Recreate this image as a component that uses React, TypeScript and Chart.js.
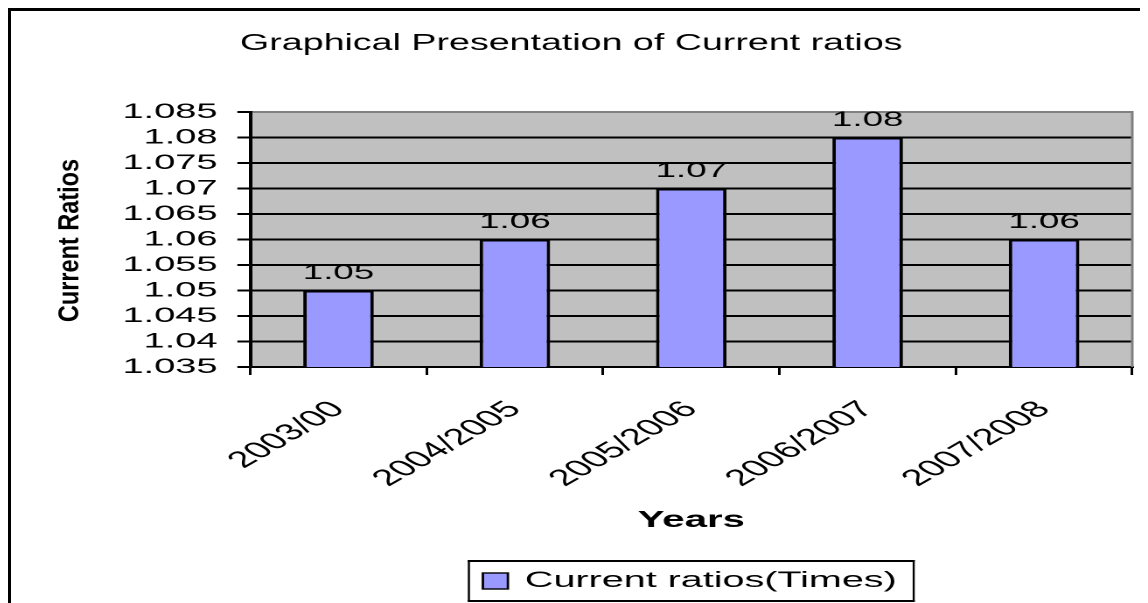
import { useEffect, useRef } from 'react';
import { Chart, registerables } from 'chart.js';

Chart.register(...registerables);

// ---- chart content ----
const CHART_TITLE = 'Graphical Presentation of Current ratios';
const SERIES_LABEL = 'Current ratios(Times)';
const X_AXIS_TITLE = 'Years';
const Y_AXIS_TITLE = 'Current Ratios';

const YEARS = ['2003/00', '2004/2005', '2005/2006', '2006/2007', '2007/2008'];
const CURRENT_RATIOS = [1.05, 1.06, 1.07, 1.08, 1.06];
const Y_TICK_LABELS = [
  '1.035', '1.04', '1.045', '1.05', '1.055', '1.06',
  '1.065', '1.07', '1.075', '1.08', '1.085',
];

const Y_MIN = parseFloat(Y_TICK_LABELS[0]);
const Y_MAX = parseFloat(Y_TICK_LABELS[Y_TICK_LABELS.length - 1]);

// ---- drawing surface: the sheet-style chart is drawn narrow and widened horizontally ----
const CW = 650;
const CH = 592;
const SX = 1137 / CW;
const FONT = '"Liberation Sans", Arial, Helvetica, sans-serif';

const BAR_FILL = '#9999FF';
const PLOT_FILL = '#C0C0C0';
const FRAME_GRAY = '#808080';

const sheetDecor = {
  id: 'sheetDecor',
  beforeDraw(chart: any) {
    const { ctx, chartArea } = chart;
    const { left, top, right, bottom } = chartArea;
    ctx.save();
    ctx.fillStyle = PLOT_FILL;
    ctx.fillRect(left, top, right - left, bottom - top);
    ctx.restore();
  },
  afterDatasetsDraw(chart: any) {
    const { ctx } = chart;
    const meta = chart.getDatasetMeta(0);
    const values = chart.data.datasets[0].data as number[];
    ctx.save();
    ctx.fillStyle = '#000';
    ctx.font = `21px ${FONT}`;
    ctx.textAlign = 'center';
    ctx.textBaseline = 'alphabetic';
    meta.data.forEach((bar: any, i: number) => {
      ctx.fillText(values[i].toFixed(2), bar.x, bar.y - 11.5);
    });
    ctx.restore();
  },
  afterDraw(chart: any) {
    const { ctx, chartArea } = chart;
    const { left, top, right, bottom } = chartArea;
    const midX = (left + right) / 2;

    // gray right edge of the plot frame
    ctx.save();
    ctx.strokeStyle = FRAME_GRAY;
    ctx.lineWidth = 1.5;
    ctx.beginPath();
    ctx.moveTo(right, top - 1);
    ctx.lineTo(right, bottom);
    ctx.stroke();
    ctx.restore();

    // chart title
    const titleScale = 1.6 / SX;
    ctx.save();
    ctx.scale(titleScale, 1);
    ctx.fillStyle = '#000';
    ctx.font = `23.5px ${FONT}`;
    ctx.textAlign = 'left';
    ctx.textBaseline = 'alphabetic';
    ctx.fillText(CHART_TITLE, 229 / SX / titleScale, 39);
    ctx.restore();

    // vertical axis title
    ctx.save();
    ctx.translate(33.7, (top + bottom) / 2 + 1);
    ctx.scale(1.23 / SX, 1);
    ctx.rotate(-Math.PI / 2);
    ctx.fillStyle = '#000';
    ctx.font = `bold 23.5px ${FONT}`;
    ctx.textAlign = 'center';
    ctx.textBaseline = 'middle';
    ctx.fillText(Y_AXIS_TITLE, 0, 0);
    ctx.restore();

    // horizontal axis title
    ctx.save();
    ctx.fillStyle = '#000';
    ctx.font = `bold 23px ${FONT}`;
    ctx.textAlign = 'center';
    ctx.textBaseline = 'alphabetic';
    ctx.fillText(X_AXIS_TITLE, midX, 516);
    ctx.restore();

    // boxed legend
    ctx.save();
    ctx.font = `22.6px ${FONT}`;
    const tw = ctx.measureText(SERIES_LABEL).width;
    const padL = 8.6;
    const sw = 14.3;
    const gap = 9.7;
    const padR = 10.3;
    const boxW = padL + sw + gap + tw + padR;
    const boxH = 42;
    const boxX = midX - boxW / 2;
    const boxY = 549;
    ctx.fillStyle = '#fff';
    ctx.fillRect(boxX, boxY, boxW, boxH);
    ctx.fillStyle = '#000';
    ctx.fillRect(boxX, boxY, boxW, 2);
    ctx.fillRect(boxX, boxY + boxH - 2, boxW, 2);
    ctx.fillRect(boxX, boxY, 1.2, boxH);
    ctx.fillRect(boxX + boxW - 1.2, boxY, 1.2, boxH);
    const swX = boxX + padL;
    const swY = boxY + 13;
    ctx.fillStyle = BAR_FILL;
    ctx.fillRect(swX, swY, sw, 16);
    ctx.strokeStyle = '#000';
    ctx.lineWidth = 1.4;
    ctx.strokeRect(swX, swY, sw, 16);
    ctx.fillStyle = '#000';
    ctx.textAlign = 'left';
    ctx.textBaseline = 'alphabetic';
    ctx.fillText(SERIES_LABEL, swX + sw + gap, 576);
    ctx.restore();
  },
};

export default function App() {
  const canvasRef = useRef<HTMLCanvasElement>(null);

  useEffect(() => {
    const canvas = canvasRef.current;
    if (!canvas) return;

    const chart = new Chart(canvas, {
      type: 'bar',
      data: {
        labels: YEARS,
        datasets: [
          {
            label: SERIES_LABEL,
            data: CURRENT_RATIOS,
            backgroundColor: BAR_FILL,
            borderColor: '#000',
            borderWidth: 2,
            barPercentage: 0.4,
            categoryPercentage: 1.0,
          },
        ],
      },
      options: {
        responsive: false,
        devicePixelRatio: 2,
        animation: false,
        events: [],
        layout: { padding: { left: 0, right: 9, top: 101, bottom: 86 } },
        plugins: {
          legend: { display: false },
          title: { display: false },
          tooltip: { enabled: false },
        },
        scales: {
          x: {
            grid: {
              offset: true,
              drawOnChartArea: false,
              drawTicks: true,
              tickLength: 8,
              color: '#000',
              lineWidth: 1.5,
            },
            border: { display: true, color: '#000', width: 2 },
            ticks: {
              color: '#000',
              font: { family: FONT, size: 23 },
              minRotation: 45,
              maxRotation: 45,
              autoSkip: false,
              padding: 21,
            },
            afterFit: (scale: any) => {
              scale.height = 150;
            },
          },
          y: {
            min: Y_MIN,
            max: Y_MAX,
            afterBuildTicks: (scale: any) => {
              scale.ticks = Y_TICK_LABELS.map((t) => ({ value: parseFloat(t) }));
            },
            afterFit: (scale: any) => {
              scale.width = 136.8;
            },
            grid: {
              color: (c: any) =>
                c.tick && Math.abs(c.tick.value - Y_MAX) < 1e-9 ? FRAME_GRAY : '#000',
              tickColor: '#000',
              lineWidth: 2,
              drawTicks: true,
              tickLength: 7.4,
            },
            border: { display: true, color: '#000', width: 2 },
            ticks: {
              color: '#000',
              font: { family: FONT, size: 21.7 },
              padding: 11.4,
              autoSkip: false,
              callback: (_v: any, i: number) => Y_TICK_LABELS[i],
            },
          },
        },
      },
      plugins: [sheetDecor],
    });

    return () => chart.destroy();
  }, []);

  return (
    <div
      style={{
        width: 1140,
        height: 595,
        boxSizing: 'border-box',
        borderTop: '3px solid #000',
        borderLeft: '3px solid #000',
        overflow: 'hidden',
        background: '#fff',
      }}
    >
      <div
        style={{
          width: CW,
          height: CH,
          transform: `scaleX(${SX})`,
          transformOrigin: '0 0',
        }}
      >
        <canvas ref={canvasRef} width={CW} height={CH} style={{ display: 'block' }} />
      </div>
    </div>
  );
}
